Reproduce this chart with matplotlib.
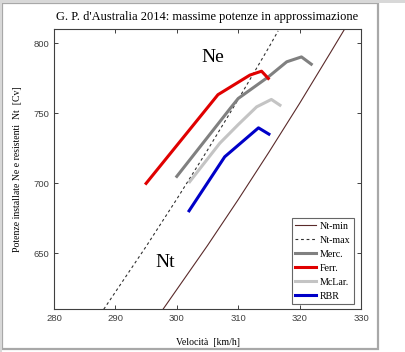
import matplotlib
matplotlib.use("Agg")
import matplotlib.pyplot as plt
from matplotlib.patches import Rectangle

# curve delle resistenze
nt_min_v = [297.75, 305, 310, 315, 320, 325, 327.7]
nt_min_p = [610, 655.6, 688.4, 722.3, 757.2, 793.3, 813]
nt_max_v = [288.1, 295, 300, 305, 310, 315, 316.5]
nt_max_p = [610, 654.9, 688.8, 723.8, 760, 797.3, 809]

# potenze installate per squadra
merc_v = [300.0, 308.7, 310.0, 314.9, 317.9, 320.3, 321.9]
merc_p = [705, 753.6, 760.7, 776.1, 786.9, 790.4, 785.2]
ferr_v = [295.0, 306.7, 311.9, 313.8, 314.4, 314.9]
ferr_p = [700, 763.4, 777.4, 780.2, 777.4, 775]
mclar_v = [302.1, 307.0, 310.0, 313.0, 315.4, 316.8]
mclar_p = [701.2, 728.7, 742, 754.7, 760, 755.9]
rbr_v = [302.0, 307.8, 313.3, 315.0]
rbr_p = [680.4, 719, 739.7, 735.2]

xticks = [280, 290, 300, 310, 320, 330]
yticks = [650, 700, 750, 800]

serif = "Liberation Serif"
sans = "Liberation Sans"

fig = plt.figure(figsize=(4.06, 3.52), dpi=100)
fig.patch.set_facecolor("white")

# cornice esterna
fig.patches.append(Rectangle((2/406, 1-349/352), 376/406, 346/352, transform=fig.transFigure,
                             fill=False, edgecolor="#a8a8a8", lw=1.6))
fig.patches.append(Rectangle((0, 1-3/352), 1, 3/352, transform=fig.transFigure,
                             facecolor="#d8d8d8", edgecolor="none"))
fig.patches.append(Rectangle((0, 0), 2/406, 1, transform=fig.transFigure,
                             facecolor="#d8d8d8", edgecolor="none"))

ax = fig.add_axes([0.1330, 0.1213, 0.7562, 0.7977])

ax.plot(nt_min_v, nt_min_p, color="#5a2a2a", lw=0.8, label="Nt-min")
ax.plot(nt_max_v, nt_max_p, color="#303030", lw=0.8, ls=(0, (2.5, 2.5)), label="Nt-max")
ax.plot(merc_v, merc_p, color="#808080", lw=2.2, label="Merc.")
ax.plot(ferr_v, ferr_p, color="#e00000", lw=2.2, label="Ferr.")
ax.plot(mclar_v, mclar_p, color="#c4c4c4", lw=2.2, label="McLar.")
ax.plot(rbr_v, rbr_p, color="#0000c8", lw=2.2, label="RBR")

ax.text(305.9, 790.2, "Ne", fontsize=14, family=serif, ha="center", va="center")
ax.text(298.1, 643.8, "Nt", fontsize=14, family=serif, ha="center", va="center")

ax.set_xlim(280, 330)
ax.set_ylim(610, 810.7)
ax.set_xticks(xticks)
ax.set_yticks(yticks)
ax.tick_params(direction="in", length=3, width=0.7, top=True, right=True,
               labelsize=6.8, labelcolor="#404040", color="#404040")
for lab in ax.get_xticklabels() + ax.get_yticklabels():
    lab.set_family(sans)
for s in ax.spines.values():
    s.set_color("#404040")
    s.set_linewidth(0.8)

ax.set_title("G. P. d'Australia 2014: massime potenze in approssimazione",
             fontsize=9, family=serif, pad=6)
ax.set_xlabel("Velocità  [km/h]", fontsize=7, family=serif, labelpad=11)
ax.set_ylabel("Potenze installate Ne e resistenti  Nt  [Cv]", fontsize=7, family=serif, labelpad=8)

leg = ax.legend(loc="upper left", bbox_to_anchor=(0.775, 0.325), borderaxespad=0,
                prop={"family": serif, "size": 7.2}, fancybox=False, frameon=True,
                handlelength=2.1, handletextpad=0.3, labelspacing=0.5,
                borderpad=0.35)
leg.get_frame().set_edgecolor("#404040")
leg.get_frame().set_linewidth(0.8)

fig.savefig("out.png", dpi=100)
